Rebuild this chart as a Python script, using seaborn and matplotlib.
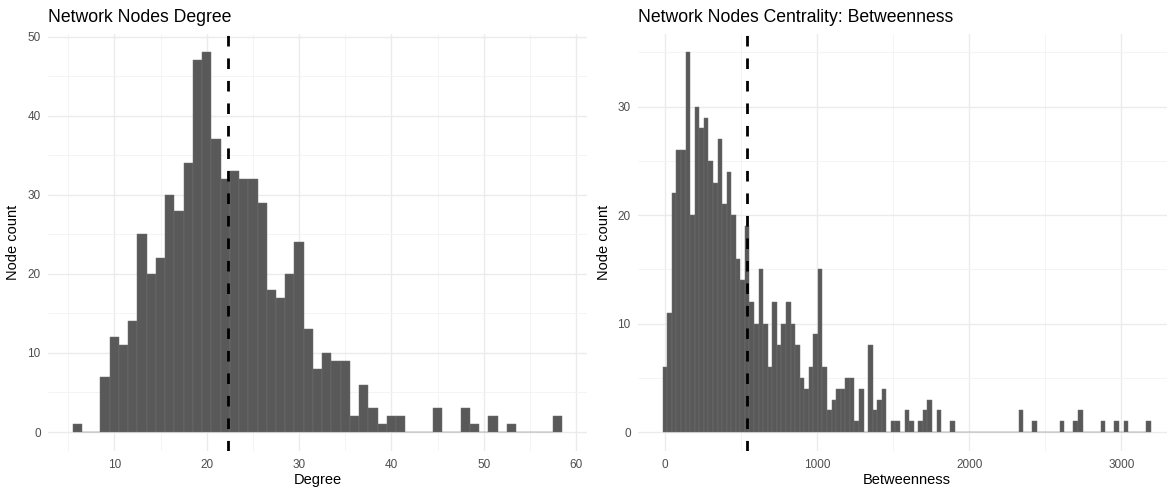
import numpy as np
import pandas as pd
import matplotlib
matplotlib.use("Agg")
import matplotlib.pyplot as plt
import seaborn as sns
from matplotlib.ticker import FixedLocator, MultipleLocator

# ---------------- data ----------------
degree_values = [6, 9, 10, 11, 12, 13, 14, 15, 16, 17, 18, 19, 20, 21, 22, 23, 24, 25,
                 26, 27, 28, 29, 30, 31, 32, 33, 34, 35, 36, 37, 38, 39, 40, 41, 45,
                 48, 49, 51, 53, 58]
degree_counts = [1, 7, 12, 11, 14, 25, 20, 22, 30, 28, 34, 47, 48, 37, 32, 33, 32, 32,
                 29, 18, 17, 20, 24, 13, 8, 10, 9, 9, 2, 6, 3, 1, 2, 2, 3,
                 3, 1, 2, 1, 2]

betweenness_values = [0, 30, 60, 90, 120, 150, 180, 210, 240, 270, 300, 330, 360, 390,
                      420, 450, 480, 510, 540, 570, 600, 630, 660, 690, 720, 750, 780,
                      810, 840, 870, 900, 930, 960, 990, 1020, 1050, 1080, 1110, 1140,
                      1170, 1200, 1230, 1260, 1290, 1350, 1380, 1410, 1440, 1500, 1530,
                      1590, 1620, 1680, 1710, 1740, 1800, 1890, 2340, 2430, 2610, 2700,
                      2730, 2880, 2970, 3030, 3180]
betweenness_counts = [6, 11, 22, 26, 26, 35, 20, 30, 28, 29, 25, 23, 27, 21,
                      24, 20, 16, 14, 19, 12, 10, 15, 10, 6, 12, 8, 10,
                      12, 10, 8, 5, 4, 6, 9, 15, 6, 2, 3, 4,
                      4, 5, 5, 1, 4, 8, 2, 3, 4, 1, 1,
                      2, 1, 1, 2, 3, 2, 1, 2, 1, 1, 1,
                      2, 1, 1, 1, 1]
betweenness_binwidth = 30

titles = ["Network Nodes Degree", "Network Nodes Centrality: Betweenness"]
x_labels = ["Degree", "Betweenness"]
y_label = "Node count"
degree_xticks = [10, 20, 30, 40, 50, 60]
degree_yticks = [0, 10, 20, 30, 40, 50]
betweenness_xticks = [0, 1000, 2000, 3000]
betweenness_yticks = [0, 10, 20, 30]

# ---------------- style ----------------
sns.set_theme(style="white")
plt.rcParams['font.family'] = ['Liberation Sans', 'DejaVu Sans']

BAR = "#595959"
EDGE = "#707070"
GRID_MAJ = "#EBEBEB"
GRID_MIN = "#F3F3F3"
TICK_COL = "#4D4D4D"

fig = plt.figure(figsize=(11.67, 4.87), dpi=100)
ax1 = fig.add_axes([0.0414, 0.0739, 0.4614, 0.8573])
ax2 = fig.add_axes([0.547, 0.0739, 0.4602, 0.8573])

deg_df = pd.DataFrame({"Degree": np.repeat(degree_values, degree_counts)})
bet_df = pd.DataFrame({"Betweenness": np.repeat(betweenness_values, betweenness_counts)})

bar_kw = dict(color=BAR, alpha=1, edgecolor=EDGE, linewidth=0.35)
sns.histplot(data=deg_df, x="Degree", discrete=True, ax=ax1, **bar_kw)
half = betweenness_binwidth / 2
b_lo = min(betweenness_values) - half
b_hi = max(betweenness_values) + half
sns.histplot(data=bet_df, x="Betweenness", binwidth=betweenness_binwidth,
             binrange=(b_lo, b_hi), ax=ax2, **bar_kw)

# ggplot-like 5% expansion
d_lo, d_hi = min(degree_values) - 0.5, max(degree_values) + 0.5
d_pad = 0.05 * (d_hi - d_lo)
ax1.set_xlim(d_lo - d_pad, d_hi + d_pad)
d_ymax = max(degree_counts)
ax1.set_ylim(-0.05 * d_ymax, 1.05 * d_ymax)

b_pad = 0.05 * (b_hi - b_lo)
ax2.set_xlim(b_lo - b_pad, b_hi + b_pad)
b_ymax = max(betweenness_counts)
ax2.set_ylim(-0.05 * b_ymax, 1.05 * b_ymax)

# mean lines
dash = (0, (3.8, 4.3))
ax1.axvline(deg_df["Degree"].mean(), color="black", lw=2.0, linestyle=dash, zorder=5)
ax2.axvline(bet_df["Betweenness"].mean(), color="black", lw=2.0, linestyle=dash, zorder=5)

for ax, xt, yt, xminor, title, xl in [
    (ax1, degree_xticks, degree_yticks, 5, titles[0], x_labels[0]),
    (ax2, betweenness_xticks, betweenness_yticks, 500, titles[1], x_labels[1]),
]:
    ax.xaxis.set_major_locator(FixedLocator(xt))
    ax.yaxis.set_major_locator(FixedLocator(yt))
    ax.xaxis.set_minor_locator(MultipleLocator(xminor))
    ax.yaxis.set_minor_locator(MultipleLocator(5))
    ax.set_axisbelow(True)
    ax.grid(which="major", color=GRID_MAJ, lw=1.0)
    ax.grid(which="minor", color=GRID_MIN, lw=0.6)
    for s in ax.spines.values():
        s.set_visible(False)
    ax.tick_params(which="both", length=0, labelsize=8.5, labelcolor=TICK_COL, pad=5.5)
    ax.set_xlabel(xl, fontsize=10.5, color="black", labelpad=2)
    ax.set_ylabel(y_label, fontsize=10.5, color="black", labelpad=5)
    ax.annotate(title, xy=(0, 1), xycoords="axes fraction", xytext=(0, 8),
                textcoords="offset points", ha="left", va="baseline",
                fontsize=12.7, color="black")
    ax.set_facecolor("white")

fig.savefig("out.png", dpi=100, facecolor="white")
